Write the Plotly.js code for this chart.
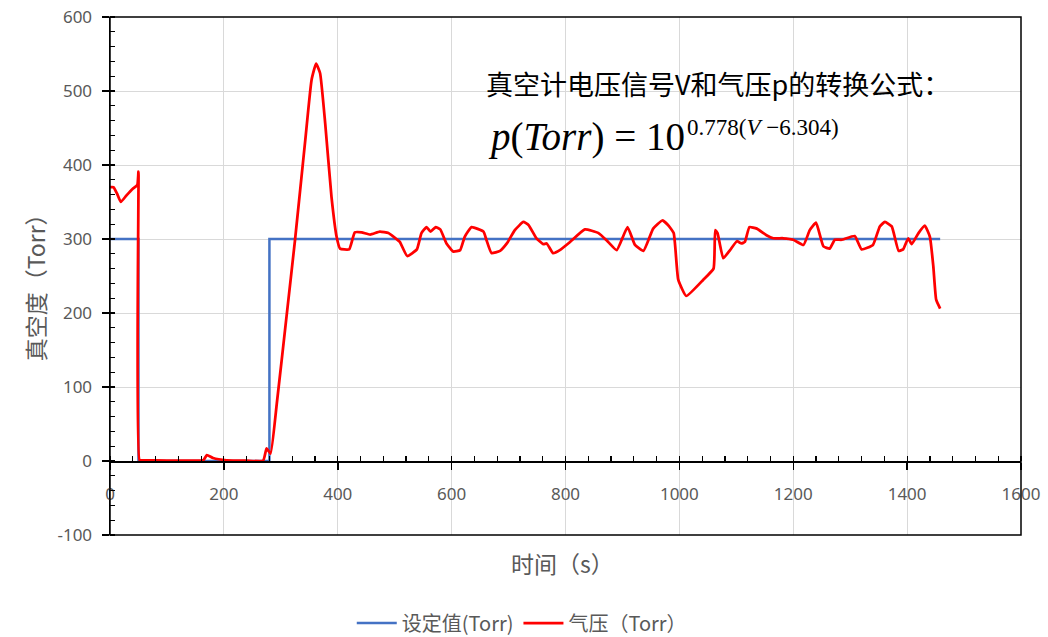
<!DOCTYPE html>
<html>
<head>
<meta charset="utf-8">
<script src="https://cdn.plot.ly/plotly-3.0.1.min.js"></script>
<style>html,body{margin:0;padding:0;background:#fff;}#chart{width:1048px;height:637px;}</style>
</head>
<body>
<div id="chart"></div>
<script>
// Set point series (Torr)
var setTime = [0, 50, 50, 280, 280, 1458];
var setValue = [300, 300, 0, 0, 300, 300];

// Measured pressure series (Torr)
var pTime = [0, 6, 12, 19, 29, 40, 48, 50, 52, 60, 100, 150, 164, 170, 181, 205, 240, 269, 275, 282,
  293, 310, 325, 343, 354, 362, 369, 378, 389, 398, 404, 420, 430, 442, 457, 474, 489, 498, 509, 522,
  539, 547, 556, 563, 572, 580, 591, 603, 615, 623, 635, 656, 661, 670, 685, 697, 711, 726, 735, 749,
  761, 767, 778, 790, 808, 834, 858, 875, 890, 909, 922, 937, 954, 970, 980, 990, 998, 1012, 1042, 1060,
  1063, 1067, 1077, 1089, 1101, 1109, 1115, 1123, 1136, 1153, 1165, 1182, 1200, 1218, 1229, 1240, 1253, 1264, 1273, 1285,
  1308, 1320, 1340, 1352, 1361, 1373, 1385, 1393, 1402, 1408, 1420, 1431, 1440, 1446, 1451, 1458];
var pValue = [370, 370, 362, 350, 359, 368, 373, 391, 1, 1, 0.5, 0.5, 1, 8, 4, 1, 0.5, 0.5, 17, 10,
  78, 195, 299, 434, 515, 537, 524, 456, 357, 303, 287, 286, 309, 309, 306, 310, 308, 303, 296, 277,
  286, 308, 316, 310, 316, 313, 294, 283, 285, 303, 316, 310, 299, 281, 284, 294, 312, 323, 319, 301,
  293, 294, 281, 285, 296, 313, 308, 296, 285, 316, 292, 284, 314, 325, 319, 308, 245, 223, 245, 260,
  312, 308, 274, 285, 297, 294, 296, 316, 314, 305, 301, 301, 299, 292, 312, 322, 290, 287, 299, 299,
  304, 286, 292, 317, 323, 317, 284, 286, 301, 293, 308, 318, 303, 263, 218, 206];

// Axis tick values and labels
var xTickVals = [0, 200, 400, 600, 800, 1000, 1200, 1400, 1600];
var xTickText = ['0', '200', '400', '600', '800', '1000', '1200', '1400', '1600'];
var yTickVals = [-100, 0, 100, 200, 300, 400, 500, 600];
var yTickText = ['-100', '0', '100', '200', '300', '400', '500', '600'];

var seriesNames = ['设定值(Torr)', '气压（Torr）'];
var xTitle = '时间（s）';
var yTitle = '真空度（Torr）';
var noteLine1 = '真空计电压信号V和气压p的转换公式：';
var formulaBase = '<i>p</i>(<i>Torr</i>) = 10';
var formulaExp = '0.778(<i>V</i> −6.304)';

var gray = '#595959';
var tickFont = {family: 'Noto Sans, Noto Sans CJK SC, sans-serif', size: 17, color: gray};

var traces = [
  {x: setTime, y: setValue, name: seriesNames[0], type: 'scatter', mode: 'lines',
   line: {color: '#4472C4', width: 2.5}},
  {x: pTime, y: pValue, name: seriesNames[1], type: 'scatter', mode: 'lines',
   line: {color: '#FF0000', width: 2.75, shape: 'spline', smoothing: 0.4}}
];

var layout = {
  width: 1048, height: 637,
  margin: {l: 110, r: 27, t: 17, b: 102, autoexpand: false},
  paper_bgcolor: '#ffffff', plot_bgcolor: '#ffffff',
  showlegend: true,
  legend: {orientation: 'h', x: 0.452, xanchor: 'center', y: -0.17, yanchor: 'middle',
    font: {family: 'Noto Sans CJK SC, Noto Sans, sans-serif', size: 20, color: gray},
    bgcolor: 'rgba(0,0,0,0)', itemwidth: 40},
  xaxis: {range: [0, 1600], tickmode: 'array', tickvals: xTickVals, ticktext: xTickText,
    anchor: 'free', position: 1/7, automargin: false,
    showline: true, linecolor: '#000', linewidth: 1.5, zeroline: false,
    showgrid: true, gridcolor: '#d9d9d9', gridwidth: 1,
    ticks: 'outside', ticklen: 7, tickcolor: '#000', tickwidth: 1.5,
    ticklabelstandoff: 10, tickfont: tickFont,
    minor: {dtick: 40, tick0: 0, ticks: 'inside', ticklen: 5, tickcolor: '#000', tickwidth: 1.2, showgrid: false}},
  xaxis2: {range: [0, 1600], tickmode: 'array', tickvals: xTickVals, overlaying: 'x', anchor: 'free', position: 1/7,
    showline: false, zeroline: false, showgrid: false, showticklabels: false,
    ticks: 'inside', ticklen: 7, tickcolor: '#000', tickwidth: 1.5},
  yaxis: {range: [-100, 600], tickmode: 'array', tickvals: yTickVals, ticktext: yTickText, automargin: false,
    showline: true, linecolor: '#000', linewidth: 1.5, zeroline: false,
    showgrid: true, gridcolor: '#d9d9d9', gridwidth: 1,
    ticks: 'outside', ticklen: 7, tickcolor: '#000', tickwidth: 1.5,
    ticklabelstandoff: 6, tickfont: tickFont,
    minor: {dtick: 20, tick0: 0, ticks: 'inside', ticklen: 5, tickcolor: '#000', tickwidth: 1.2, showgrid: false}},
  yaxis2: {range: [-100, 600], tickmode: 'array', tickvals: yTickVals, overlaying: 'y', anchor: 'free', position: 0,
    side: 'left', showline: false, zeroline: false, showgrid: false, showticklabels: false,
    ticks: 'inside', ticklen: 7, tickcolor: '#000', tickwidth: 1.5},
  shapes: [
    {type: 'rect', xref: 'paper', yref: 'paper', x0: 0, x1: 1, y0: 0, y1: 1,
     line: {color: '#000', width: 1.5}, fillcolor: 'rgba(0,0,0,0)', layer: 'above'},
    {type: 'rect', xref: 'paper', yref: 'paper', x0: 0.370, x1: 0.962, y0: 0.718, y1: 0.923,
     line: {width: 0}, fillcolor: '#ffffff', layer: 'between'}
  ],
  annotations: [
    {xref: 'paper', yref: 'paper', x: 0.4105, y: 0.871, xanchor: 'left', yanchor: 'middle',
     text: noteLine1, showarrow: false,
     font: {family: 'Noto Sans CJK SC, sans-serif', size: 27, color: '#000'}},
    {xref: 'paper', yref: 'paper', x: 0.4125, y: 0.768, xanchor: 'left', yanchor: 'middle',
     text: formulaBase, showarrow: false,
     font: {family: 'Liberation Serif, Times New Roman, serif', size: 39, color: '#000'}},
    {xref: 'paper', yref: 'paper', x: 0.6315, y: 0.786, xanchor: 'left', yanchor: 'middle',
     text: formulaExp, showarrow: false,
     font: {family: 'Liberation Serif, Times New Roman, serif', size: 23, color: '#000'}},
    {xref: 'paper', yref: 'paper', x: 0.497, y: -0.054, xanchor: 'center', yanchor: 'middle',
     text: xTitle, showarrow: false,
     font: {family: 'Noto Sans CJK SC, sans-serif', size: 23, color: gray}},
    {xref: 'paper', yref: 'paper', x: -0.0823, y: 0.488, xanchor: 'center', yanchor: 'middle',
     text: yTitle, textangle: -90, showarrow: false,
     font: {family: 'Noto Sans CJK SC, sans-serif', size: 23, color: gray}}
  ]
};

Plotly.newPlot('chart', traces, layout, {displayModeBar: false, staticPlot: true});
</script>
</body>
</html>
